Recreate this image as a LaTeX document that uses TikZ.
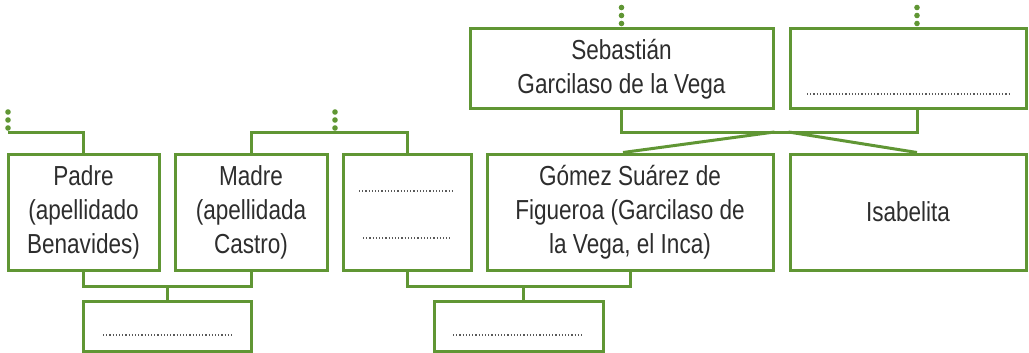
\documentclass[tikz,border=0pt]{standalone}
\usepackage{fontspec}
\setmainfont{Liberation Sans}[FakeStretch=0.82]
\usetikzlibrary{positioning,calc}
\definecolor{verdeArbol}{RGB}{96,150,52}
\definecolor{textoGris}{RGB}{45,45,45}
\tikzset{
	caja/.style={draw=verdeArbol,line width=3pt,align=center,inner sep=0pt,text=textoGris,
		font=\fontsize{27.5}{34}\selectfont},
	linea/.style={draw=verdeArbol,line width=3pt},
	relleno/.style={draw=black!65,line width=1.1pt,dash pattern=on 1.1pt off 2.1pt}
}
\newcommand{\puntosArriba}[1]{%
	\foreach \d in {4,12,20}{\fill[verdeArbol] ($(#1)+(0,-\d)$) circle (2.8pt);}}

\begin{document}
\begin{tikzpicture}[x=1pt,y=-1pt]
\useasboundingbox (0,0) rectangle (1029,353);

%Niveles de las uniones
\coordinate (nivelA) at (0,132);
\coordinate (nivelB) at (0,286);

%Abuelos
\node[caja,minimum width=303pt,minimum height=80pt] (sebastian) at (621.5,69) {Sebastián\\Garcilaso de la Vega};
\node[caja,minimum width=236pt,minimum height=80pt] (esposa) at (908,69) {};

%Padres e hijos
\node[caja,minimum width=151pt,minimum height=116pt] (padre) at (83.5,212) {Padre\\(apellidado\\Benavides)};
\node[caja,minimum width=152pt,minimum height=116pt] (madre) at (251,212) {Madre\\(apellidada\\Castro)};
\node[caja,minimum width=128pt,minimum height=116pt] (tercero) at (407,212) {};
\node[caja,minimum width=286pt,minimum height=116pt] (gomez) at (630,212) {Gómez Suárez de\\Figueroa (Garcilaso de\\la Vega, el Inca)};
\node[caja,minimum width=236pt,minimum height=116pt] (isabelita) at (908,212) {Isabelita};

%Nietos
\node[caja,minimum width=168pt,minimum height=50pt] (hijoA) at (167,326) {};
\node[caja,minimum width=169pt,minimum height=50pt] (hijoB) at (518.5,326) {};

%Lineas para completar
\draw[relleno] (359,191) -- (454,191);
\draw[relleno] (363,238) -- (450,238);
\draw[relleno] (807,94) -- (1009,94);
\draw[relleno] (103,335) -- (232,335);
\draw[relleno] (453,335) -- (583,335);

%Uniones de arriba
\coordinate (puntosPadre) at (8,132);
\coordinate (puntosMadre) at (335,132);
\coordinate (esposaArriba) at ($(esposa.north)+(9,0)$);
\coordinate (esposaAbajo) at ($(esposa.south)+(9,0)$);
\draw[linea] (padre.north) |- (puntosPadre);
\draw[linea] (madre.north) |- (tercero.north |- nivelA) -- (tercero.north);
\draw[linea] (sebastian.south) |- (esposaAbajo |- nivelA) -- (esposaAbajo);
\draw[linea] (sebastian.south east |- nivelA) -- ($(gomez.north)+(-7,0)$);
\draw[linea] (esposa.south west |- nivelA) -- ($(isabelita.north)+(9,0)$);

%Puntos suspensivos
\puntosArriba{puntosPadre}
\puntosArriba{puntosMadre}
\puntosArriba{sebastian.north}
\puntosArriba{esposaArriba}

%Uniones de abajo
\draw[linea] (padre.south) |- (madre.south |- nivelB) -- (madre.south);
\draw[linea] (hijoA.north) -- (hijoA.north |- nivelB);
\draw[linea] (tercero.south) |- (gomez.south |- nivelB) -- (gomez.south);
\draw[linea] ($(hijoB.north)+(4.5,0)$) -- ($(hijoB.north |- nivelB)+(4.5,0)$);

\end{tikzpicture}
\end{document}
